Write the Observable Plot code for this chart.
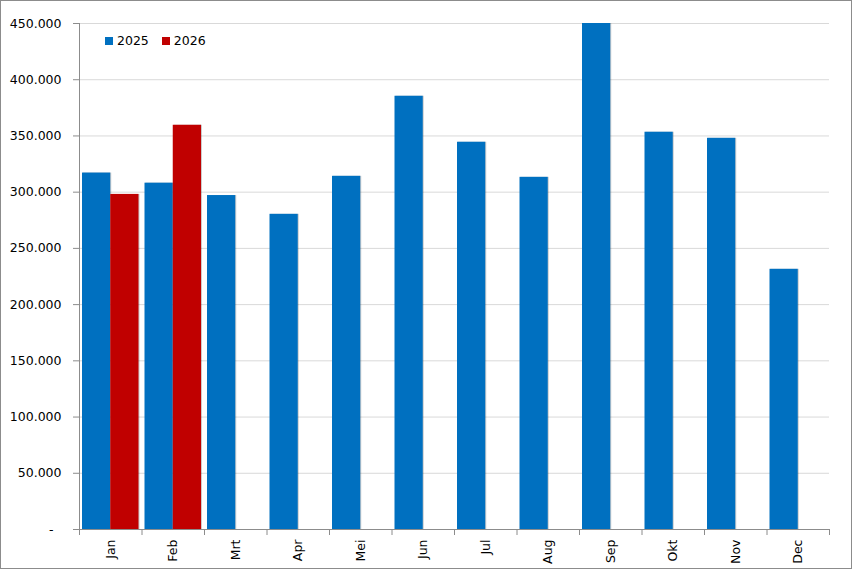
<!DOCTYPE html>
<html>
<head>
<meta charset="utf-8">
<script src="https://cdn.jsdelivr.net/npm/d3@7"></script>
<script src="https://cdn.jsdelivr.net/npm/@observablehq/plot@0.6"></script>
<style>
  html, body { margin: 0; padding: 0; background: #fff; }
  #wrap { position: relative; width: 852px; height: 569px; box-sizing: border-box; border: 1px solid #8c8c8c; background: #fff; overflow: hidden; }
  #legend { position: absolute; left: 104px; top: 32px; display: flex; align-items: center; font-family: "DejaVu Sans", sans-serif; font-size: 12.5px; color: #000; }
  #legend .item { display: flex; align-items: center; margin-right: 13px; }
  #legend .sw { width: 8px; height: 8px; margin-right: 4px; }
  .bars rect { filter: drop-shadow(1.2px 0.3px 0.7px rgba(0,0,0,0.2)); }
</style>
</head>
<body>
<div id="wrap"><div id="legend"></div></div>
<script>
const months = ["Jan","Feb","Mrt","Apr","Mei","Jun","Jul","Aug","Sep","Okt","Nov","Dec"];
const series = ["2025","2026"];
const colors = ["#0070C0","#C00000"];
const values2025 = [317000, 308000, 297000, 280300, 314100, 385300, 344400, 313200, 450000, 353300, 347900, 231400];
const values2026 = [298000, 359500];
const yTicks = [0, 50000, 100000, 150000, 200000, 250000, 300000, 350000, 400000, 450000];

const data2025 = months.map((m, i) => ({month: m, value: values2025[i]}));
const data2026 = values2026.map((v, i) => ({month: months[i], value: v}));

const W = 850, H = 567, mL = 78, mR = 22, mT = 22, mB = 39;
const step = (W - mL - mR) / months.length;
const grey = "#8c8c8c";
const fmt = d => d === 0 ? "-\u2007" : d3.format(",")(d).replace(/,/g, ".");

const chart = Plot.plot({
  width: W, height: H,
  marginLeft: mL, marginRight: mR, marginTop: mT, marginBottom: mB,
  style: {fontFamily: "DejaVu Sans, sans-serif", fontSize: "12.5px", color: "#000", background: "transparent"},
  x: {type: "band", domain: months, padding: 0, round: false, axis: null},
  y: {domain: [0, 450000], axis: null},
  marks: [
    Plot.gridY(yTicks, {stroke: "#d9d9d9", strokeOpacity: 1}),
    Plot.barY(data2025, {x: "month", y: "value", fill: colors[0], insetLeft: 3, insetRight: step / 2, className: "bars"}),
    Plot.barY(data2026, {x: "month", y: "value", fill: colors[1], insetLeft: step / 2, insetRight: 3, className: "bars"}),
    Plot.ruleY([0], {stroke: grey}),
    Plot.ruleX([months[0]], {dx: -step / 2, stroke: grey}),
    Plot.axisY(yTicks, {anchor: "left", tickSize: 6, tickPadding: 12, tickFormat: fmt, stroke: grey, fill: "#000", label: null}),
    Plot.axisX(months, {anchor: "bottom", tickSize: 6, tickFormat: () => "", dx: -step / 2, stroke: grey, label: null}),
    Plot.axisX([months[months.length - 1]], {anchor: "bottom", tickSize: 6, tickFormat: () => "", dx: step / 2, stroke: grey, label: null}),
    Plot.axisX(months, {anchor: "bottom", tickSize: 0, tickPadding: 10, tickRotate: -90, fill: "#000", label: null})
  ]
});
chart.style.position = "absolute";
chart.style.left = "0px";
chart.style.top = "0px";
const wrap = document.getElementById("wrap");
wrap.insertBefore(chart, wrap.firstChild);

const legend = document.getElementById("legend");
series.forEach((s, i) => {
  const it = document.createElement("div");
  it.className = "item";
  const sw = document.createElement("span");
  sw.className = "sw";
  sw.style.background = colors[i];
  const t = document.createElement("span");
  t.textContent = s;
  it.appendChild(sw); it.appendChild(t);
  legend.appendChild(it);
});
</script>
</body>
</html>
